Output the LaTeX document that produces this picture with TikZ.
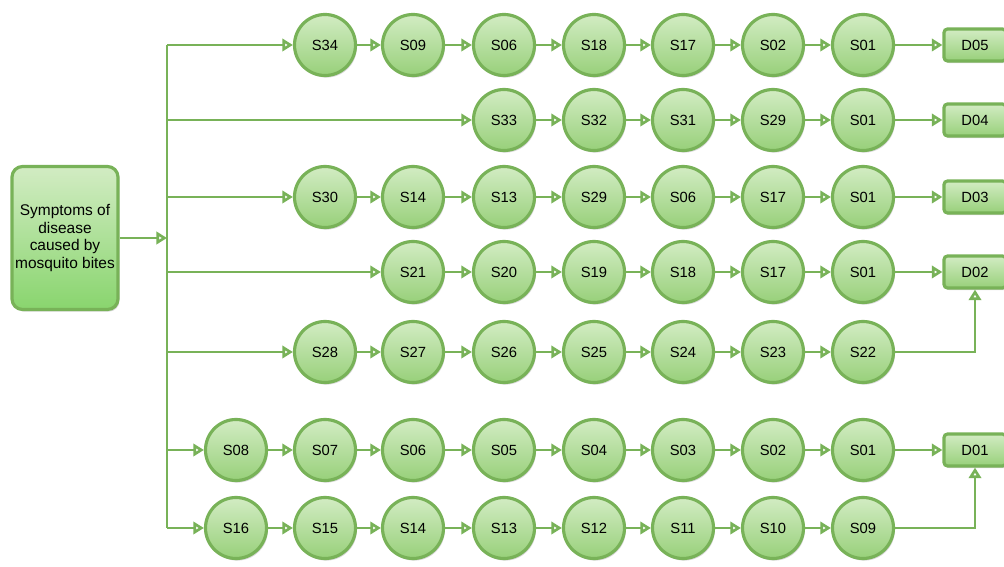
\documentclass[tikz,border=0pt]{standalone}
\usepackage{fontspec}
\setmainfont{Liberation Sans}
\usetikzlibrary{arrows.meta,shadows}
\definecolor{leafline}{HTML}{78B258}
\definecolor{leaftop}{HTML}{D2ECC3}
\definecolor{leafbot}{HTML}{98D07A}
\tikzset{
  symptom/.style={circle, draw=leafline, line width=1.8pt, top color=leaftop, bottom color=leafbot,
    minimum size=1.22cm, inner sep=0pt, font=\fontsize{8.4}{9}\selectfont,
    drop shadow={shadow xshift=0.8pt, shadow yshift=-1.2pt, opacity=0.3}},
  disease/.style={rectangle, rounded corners=2pt, draw=leafline, line width=1.8pt, top color=leaftop, bottom color=leafbot,
    minimum width=1.24cm, minimum height=0.64cm, inner sep=0pt, font=\fontsize{8.4}{9}\selectfont,
    drop shadow={shadow xshift=0.8pt, shadow yshift=-1.2pt, opacity=0.3}},
  source/.style={rectangle, rounded corners=6pt, draw=leafline, line width=1.8pt, top color=leaftop, bottom color=leafbot!90!green,
    minimum width=2.12cm, minimum height=2.86cm, inner sep=1pt, align=center, font=\fontsize{8.8}{10}\selectfont,
    drop shadow={shadow xshift=0.8pt, shadow yshift=-1.2pt, opacity=0.3}},
  link/.style={draw=leafline, line width=1.5pt},
  flow/.style={link, -{Triangle[open,length=6pt,width=7pt]}},
}
\begin{document}
\begin{tikzpicture}
\useasboundingbox (0,0) rectangle (20.08,11.34);
% source and trunk
\node[source] (src) at (1.30,6.58) {Symptoms of\\disease\\caused by\\mosquito bites};
\coordinate (tin) at (3.34,6.58);
\coordinate (t1) at (3.34,10.44);
\coordinate (t2) at (3.34,8.94);
\coordinate (t3) at (3.34,7.40);
\coordinate (t4) at (3.34,5.90);
\coordinate (t5) at (3.34,4.30);
\coordinate (t6) at (3.34,2.34);
\coordinate (t7) at (3.34,0.78);
% row 1
\node[symptom] (r1s34) at (6.50,10.44) {S34};
\node[symptom] (r1s09) at (8.26,10.44) {S09};
\node[symptom] (r1s06) at (10.08,10.44) {S06};
\node[symptom] (r1s18) at (11.88,10.44) {S18};
\node[symptom] (r1s17) at (13.66,10.44) {S17};
\node[symptom] (r1s02) at (15.46,10.44) {S02};
\node[symptom] (r1s01) at (17.26,10.44) {S01};
\node[disease] (r1d05) at (19.50,10.44) {D05};
% row 2
\node[symptom] (r2s33) at (10.08,8.94) {S33};
\node[symptom] (r2s32) at (11.88,8.94) {S32};
\node[symptom] (r2s31) at (13.66,8.94) {S31};
\node[symptom] (r2s29) at (15.46,8.94) {S29};
\node[symptom] (r2s01) at (17.26,8.94) {S01};
\node[disease] (r2d04) at (19.50,8.94) {D04};
% row 3
\node[symptom] (r3s30) at (6.50,7.40) {S30};
\node[symptom] (r3s14) at (8.26,7.40) {S14};
\node[symptom] (r3s13) at (10.08,7.40) {S13};
\node[symptom] (r3s29) at (11.88,7.40) {S29};
\node[symptom] (r3s06) at (13.66,7.40) {S06};
\node[symptom] (r3s17) at (15.46,7.40) {S17};
\node[symptom] (r3s01) at (17.26,7.40) {S01};
\node[disease] (r3d03) at (19.50,7.40) {D03};
% row 4
\node[symptom] (r4s21) at (8.26,5.90) {S21};
\node[symptom] (r4s20) at (10.08,5.90) {S20};
\node[symptom] (r4s19) at (11.88,5.90) {S19};
\node[symptom] (r4s18) at (13.66,5.90) {S18};
\node[symptom] (r4s17) at (15.46,5.90) {S17};
\node[symptom] (r4s01) at (17.26,5.90) {S01};
\node[disease] (r4d02) at (19.50,5.90) {D02};
% row 5
\node[symptom] (r5s28) at (6.50,4.30) {S28};
\node[symptom] (r5s27) at (8.26,4.30) {S27};
\node[symptom] (r5s26) at (10.08,4.30) {S26};
\node[symptom] (r5s25) at (11.88,4.30) {S25};
\node[symptom] (r5s24) at (13.66,4.30) {S24};
\node[symptom] (r5s23) at (15.46,4.30) {S23};
\node[symptom] (r5s22) at (17.26,4.30) {S22};
% row 6
\node[symptom] (r6s08) at (4.72,2.34) {S08};
\node[symptom] (r6s07) at (6.50,2.34) {S07};
\node[symptom] (r6s06) at (8.26,2.34) {S06};
\node[symptom] (r6s05) at (10.08,2.34) {S05};
\node[symptom] (r6s04) at (11.88,2.34) {S04};
\node[symptom] (r6s03) at (13.66,2.34) {S03};
\node[symptom] (r6s02) at (15.46,2.34) {S02};
\node[symptom] (r6s01) at (17.26,2.34) {S01};
\node[disease] (r6d01) at (19.50,2.34) {D01};
% row 7
\node[symptom] (r7s16) at (4.72,0.78) {S16};
\node[symptom] (r7s15) at (6.50,0.78) {S15};
\node[symptom] (r7s14) at (8.26,0.78) {S14};
\node[symptom] (r7s13) at (10.08,0.78) {S13};
\node[symptom] (r7s12) at (11.88,0.78) {S12};
\node[symptom] (r7s11) at (13.66,0.78) {S11};
\node[symptom] (r7s10) at (15.46,0.78) {S10};
\node[symptom] (r7s09) at (17.26,0.78) {S09};
% trunk and branches
\draw[flow] (src.east) -- (tin);
\draw[link] (t1) -- (t7);
\draw[flow] (t1) -- (r1s34);
\draw[flow] (t2) -- (r2s33);
\draw[flow] (t3) -- (r3s30);
\draw[flow] (t4) -- (r4s21);
\draw[flow] (t5) -- (r5s28);
\draw[flow] (t6) -- (r6s08);
\draw[flow] (t7) -- (r7s16);
% row links
\draw[flow] (r1s34) -- (r1s09);
\draw[flow] (r1s09) -- (r1s06);
\draw[flow] (r1s06) -- (r1s18);
\draw[flow] (r1s18) -- (r1s17);
\draw[flow] (r1s17) -- (r1s02);
\draw[flow] (r1s02) -- (r1s01);
\draw[flow] (r1s01) -- (r1d05);
\draw[flow] (r2s33) -- (r2s32);
\draw[flow] (r2s32) -- (r2s31);
\draw[flow] (r2s31) -- (r2s29);
\draw[flow] (r2s29) -- (r2s01);
\draw[flow] (r2s01) -- (r2d04);
\draw[flow] (r3s30) -- (r3s14);
\draw[flow] (r3s14) -- (r3s13);
\draw[flow] (r3s13) -- (r3s29);
\draw[flow] (r3s29) -- (r3s06);
\draw[flow] (r3s06) -- (r3s17);
\draw[flow] (r3s17) -- (r3s01);
\draw[flow] (r3s01) -- (r3d03);
\draw[flow] (r4s21) -- (r4s20);
\draw[flow] (r4s20) -- (r4s19);
\draw[flow] (r4s19) -- (r4s18);
\draw[flow] (r4s18) -- (r4s17);
\draw[flow] (r4s17) -- (r4s01);
\draw[flow] (r4s01) -- (r4d02);
\draw[flow] (r5s28) -- (r5s27);
\draw[flow] (r5s27) -- (r5s26);
\draw[flow] (r5s26) -- (r5s25);
\draw[flow] (r5s25) -- (r5s24);
\draw[flow] (r5s24) -- (r5s23);
\draw[flow] (r5s23) -- (r5s22);
\draw[flow] (r5s22.east) -| (r4d02.south);
\draw[flow] (r6s08) -- (r6s07);
\draw[flow] (r6s07) -- (r6s06);
\draw[flow] (r6s06) -- (r6s05);
\draw[flow] (r6s05) -- (r6s04);
\draw[flow] (r6s04) -- (r6s03);
\draw[flow] (r6s03) -- (r6s02);
\draw[flow] (r6s02) -- (r6s01);
\draw[flow] (r6s01) -- (r6d01);
\draw[flow] (r7s16) -- (r7s15);
\draw[flow] (r7s15) -- (r7s14);
\draw[flow] (r7s14) -- (r7s13);
\draw[flow] (r7s13) -- (r7s12);
\draw[flow] (r7s12) -- (r7s11);
\draw[flow] (r7s11) -- (r7s10);
\draw[flow] (r7s10) -- (r7s09);
\draw[flow] (r7s09.east) -| (r6d01.south);
\end{tikzpicture}
\end{document}
